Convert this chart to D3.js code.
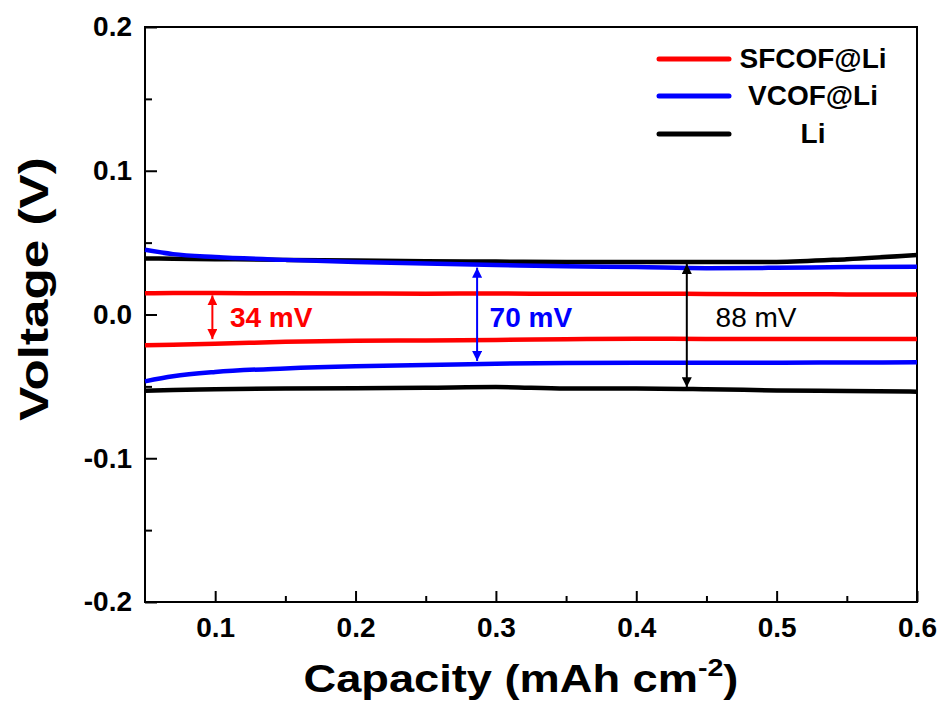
<!DOCTYPE html>
<html>
<head>
<meta charset="utf-8">
<script src="https://cdn.jsdelivr.net/npm/d3@7"></script>
<style>
  body { margin: 0; background: #fff; }
  text { font-family: Arial, 'Liberation Sans', sans-serif; }
</style>
</head>
<body>
<div id="container"></div>
<script>
// data
const capacity = [0.05, 0.07, 0.1, 0.15, 0.2, 0.25, 0.3, 0.35, 0.4, 0.45, 0.5, 0.55, 0.6]

const sfcofUp = [0.0148, 0.0150, 0.0149, 0.0147, 0.0146, 0.0145, 0.0146, 0.0144, 0.0145, 0.0143, 0.0141, 0.0140, 0.0139]
const sfcofDown = [-0.0214, -0.0210, -0.0204, -0.0190, -0.0182, -0.0180, -0.0177, -0.0172, -0.0168, -0.0170, -0.0170, -0.0170, -0.0170]
const vcofUp = [0.0450, 0.0420, 0.0400, 0.0380, 0.0365, 0.0355, 0.0345, 0.0335, 0.0330, 0.0322, 0.0325, 0.0330, 0.0333]
const vcofDown = [-0.0465, -0.0430, -0.0400, -0.0375, -0.0360, -0.0352, -0.0342, -0.0337, -0.0335, -0.0335, -0.0335, -0.0334, -0.0333]
const liUp = [0.0390, 0.0388, 0.0385, 0.0380, 0.0375, 0.0370, 0.0368, 0.0365, 0.0365, 0.0365, 0.0366, 0.0385, 0.0414]
const liDown = [-0.0530, -0.0525, -0.0520, -0.0515, -0.0513, -0.0510, -0.0505, -0.0515, -0.0515, -0.0520, -0.0528, -0.0532, -0.0537]

const seriesNames = ['SFCOF@Li', 'VCOF@Li', 'Li']
const seriesColors = ['#ff0000', '#0000ff', '#000000']

// gap annotations: x, top, bottom, label
const gapX = [0.098, 0.2866, 0.436]
const gapTop = [0.0147, 0.0340, 0.0366]
const gapBottom = [-0.0185, -0.0337, -0.0520]
const gapLabels = ['34 mV', '70 mV', '88 mV']
const labelX = [0.1105, 0.2955, 0.4565]

const xTicks = [0.1, 0.2, 0.3, 0.4, 0.5, 0.6]
const xMinor = [0.15, 0.25, 0.35, 0.45, 0.55]
const yTicks = [-0.2, -0.1, 0.0, 0.1, 0.2]
const yMinor = [-0.15, -0.05, 0.05, 0.15]

const width = 943
const height = 708
const margin = { top: 27, right: 26, bottom: 106, left: 145 }

const svg = d3.select('#container').append('svg')
    .attr('width', width).attr('height', height)

const xScale = d3.scaleLinear().domain([0.05, 0.6])
    .range([margin.left, width - margin.right])
const yScale = d3.scaleLinear().domain([-0.2, 0.2])
    .range([height - margin.bottom, margin.top])

// plain hyphen for negatives, like the original
const fmt = d => d3.format('.1f')(d).replace('\u2212', '-')

// arrow markers
const defs = svg.append('defs')
seriesColors.forEach((c, i) => {
    defs.append('marker')
        .attr('id', 'arrow' + i)
        .attr('viewBox', '0 0 10 10')
        .attr('refX', 10).attr('refY', 5)
        .attr('markerWidth', 10).attr('markerHeight', 10)
        .attr('markerUnits', 'userSpaceOnUse')
        .attr('orient', 'auto-start-reverse')
        .append('path')
        .attr('d', 'M0,0 L10,5 L0,10 Z')
        .attr('fill', c)
})

// x axis
const xAxis = d3.axisBottom(xScale).tickValues(xTicks)
    .tickSize(-11).tickSizeOuter(0).tickPadding(15)
    .tickFormat(fmt)
svg.append('g').attr('id', 'x-axis')
    .attr('transform', `translate(0, ${height - margin.bottom})`)
    .call(xAxis)
svg.append('g')
    .attr('transform', `translate(0, ${height - margin.bottom})`)
    .call(d3.axisBottom(xScale).tickValues(xMinor).tickSize(-6).tickSizeOuter(0).tickFormat(''))

// y axis
const yAxis = d3.axisLeft(yScale).tickValues(yTicks)
    .tickSize(-12).tickSizeOuter(0).tickPadding(13)
    .tickFormat(fmt)
svg.append('g').attr('id', 'y-axis')
    .attr('transform', `translate(${margin.left}, 0)`)
    .call(yAxis)
svg.append('g')
    .attr('transform', `translate(${margin.left}, 0)`)
    .call(d3.axisLeft(yScale).tickValues(yMinor).tickSize(-7).tickSizeOuter(0).tickFormat(''))

svg.selectAll('.tick line').attr('stroke', '#000').attr('stroke-width', 2)
svg.selectAll('.domain').remove()
svg.selectAll('.tick text')
    .attr('fill', '#000')
    .style('font-size', '28px')
    .style('font-weight', 'bold')
    .style('font-family', "Arial, 'Liberation Sans', sans-serif")

// frame
svg.append('rect')
    .attr('x', margin.left).attr('y', margin.top)
    .attr('width', width - margin.left - margin.right)
    .attr('height', height - margin.top - margin.bottom)
    .attr('fill', 'none').attr('stroke', '#000').attr('stroke-width', 2)

// axis titles
const xt = svg.append('text')
    .attr('text-anchor', 'middle')
    .attr('transform', 'translate(521, 692) scale(1.19, 1)')
    .style('font-size', '38px').style('font-weight', 'bold')
xt.append('tspan').text('Capacity (mAh cm')
xt.append('tspan').text('-2').attr('dy', -16).style('font-size', '24px')
xt.append('tspan').text(')').attr('dy', 16)

svg.append('text')
    .attr('text-anchor', 'middle')
    .attr('transform', 'translate(48, 289) rotate(-90) scale(1.28, 1)')
    .style('font-size', '40px').style('font-weight', 'bold')
    .text('Voltage (V)')

// data lines
const line = d3.line()
    .x((d, i) => xScale(capacity[i]))
    .y(d => yScale(d))
    .curve(d3.curveMonotoneX)

const curves = [
    [liUp, 2], [liDown, 2],
    [vcofUp, 1], [vcofDown, 1],
    [sfcofUp, 0], [sfcofDown, 0]
]
svg.append('g').selectAll('path')
    .data(curves)
    .enter()
    .append('path')
    .attr('d', d => line(d[0]))
    .attr('fill', 'none')
    .attr('stroke', d => seriesColors[d[1]])
    .attr('stroke-width', 4.5)
    .attr('stroke-linejoin', 'round')

// gap arrows and labels
gapX.forEach((gxv, i) => {
    svg.append('line')
        .attr('x1', xScale(gxv)).attr('x2', xScale(gxv))
        .attr('y1', yScale(gapTop[i]) + 2).attr('y2', yScale(gapBottom[i]) - 2)
        .attr('stroke', seriesColors[i]).attr('stroke-width', 2)
        .attr('marker-start', `url(#arrow${i})`)
        .attr('marker-end', `url(#arrow${i})`)
})

svg.append('g').selectAll('text')
    .data(gapLabels)
    .enter()
    .append('text')
    .attr('x', (d, i) => xScale(labelX[i]))
    .attr('y', yScale(0) + 12)
    .attr('fill', (d, i) => seriesColors[i])
    .style('font-size', '28px')
    .style('font-weight', (d, i) => i === 2 ? 'normal' : 'bold')
    .text(d => d)

// legend
const legend = svg.append('g').attr('id', 'legend')
const legendY = [59, 96, 134]
seriesNames.forEach((name, i) => {
    legend.append('line')
        .attr('x1', 659).attr('x2', 729)
        .attr('y1', legendY[i]).attr('y2', legendY[i])
        .attr('stroke', seriesColors[i]).attr('stroke-width', 5)
        .attr('stroke-linecap', 'round')
    legend.append('text')
        .attr('x', 813).attr('y', legendY[i] + 9)
        .attr('text-anchor', 'middle')
        .style('font-size', '28px').style('font-weight', 'bold')
        .text(name)
})
</script>
</body>
</html>
